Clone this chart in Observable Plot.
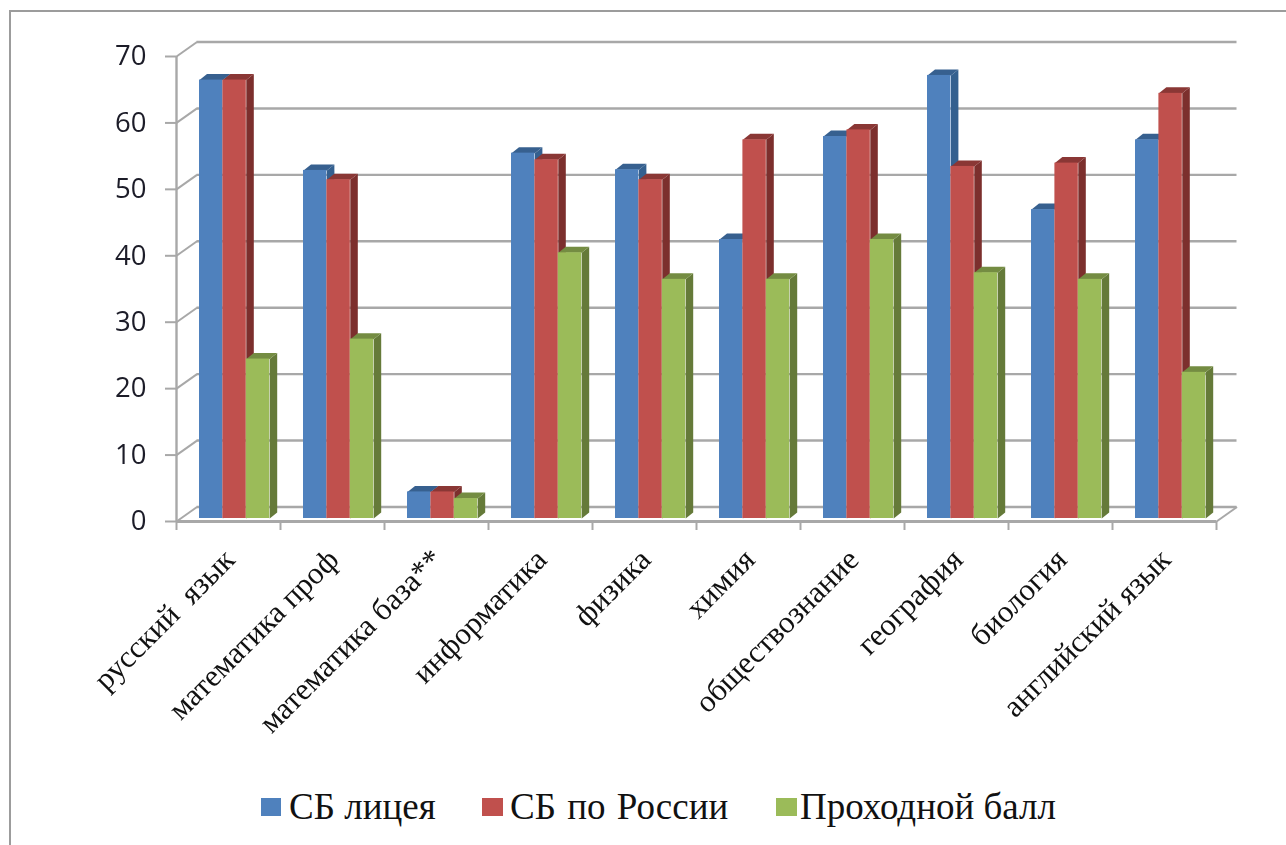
<!DOCTYPE html>
<html><head><meta charset="utf-8">
<script src="https://cdn.jsdelivr.net/npm/d3@7"></script>
<script src="https://cdn.jsdelivr.net/npm/@observablehq/plot@0.6"></script>
<style>
html,body{margin:0;padding:0;background:#fff;overflow:hidden;width:1286px;height:845px}
#frame{position:absolute;left:9px;top:10px;width:1320px;height:880px;border:2px solid #9c9c9c;box-sizing:border-box}
#chart{position:absolute;left:0;top:0}
#legend{position:absolute;left:0;top:785px;width:1286px;height:50px;font-family:"Liberation Serif",serif;font-size:37px;color:#111}
#legend span{position:absolute;white-space:nowrap;top:0}
#legend i{position:absolute;top:13px;width:20.5px;height:18px;display:block}
svg{filter:blur(.45px)}
</style></head><body>
<div id="frame"></div><div id="chart"></div><div id="legend"></div>
<script>
const categories=["русский  язык","математика проф","математика база**","информатика","физика","химия","обществознание","география","биология","английский язык"];
const seriesNames=["СБ лицея","СБ по России","Проходной балл"];
const lyceum=[66,52.4,4,55,52.5,42,57.5,66.7,46.5,57];
const russia=[66,51,4,54,51,57,58.5,53,53.5,64];
const passing=[24,27,3,40,36,36,42,37,36,22];
const yTicks=[0,10,20,30,40,50,60,70];
const colors=["#4f81bd","#c0504d","#9bbb59"];
const sideColors=["#34608f","#7c2f2d","#657a39"];
const topColors=["#37608f","#8a3735","#748c42"];
const values=[lyceum,russia,passing];
const legendWordSpacing=["0px","2px","0px"];

// units: one category = 1 on x; depth of the 3D bars and walls in data units
const U=104, V=6.643;
const barW=23.4/U, barLeft=23/U, dX=7.5/U, dY=6/V, baseY=3/V;
const wallX=20.5/U, wallY=14.5/V;
const grid="#a8a8a8";
const marks=[];

// back wall gridlines + left wall diagonals + floor
marks.push(Plot.ruleY(yTicks,{y:d=>d,x1:wallX,x2:10+wallX,dy:-wallY*V,stroke:grid,strokeWidth:2.4}));
marks.push(Plot.link(yTicks,{x1:0,y1:d=>d,x2:wallX,y2:d=>d+wallY,stroke:grid,strokeWidth:2}));
marks.push(Plot.link([0],{x1:10,y1:0,x2:10+wallX,y2:wallY,stroke:grid,strokeWidth:2}));
marks.push(Plot.ruleX([0],{y1:0,y2:70,stroke:grid,strokeWidth:2.4}));
marks.push(Plot.ruleY([0],{x1:0,x2:10,stroke:grid,strokeWidth:3}));

// bars, painted series by series
values.forEach((vals,s)=>{
  const rows=vals.map((v,i)=>({i,v,l:i+barLeft+s*barW,r:i+barLeft+(s+1)*barW}));
  const side=rows.flatMap(b=>[[b.r,baseY],[b.r,b.v+baseY],[b.r+dX,b.v+baseY+dY],[b.r+dX,baseY+dY]].map(p=>({x:p[0],y:p[1],z:b.i})));
  const top=rows.flatMap(b=>[[b.l,b.v+baseY],[b.r,b.v+baseY],[b.r+dX,b.v+baseY+dY],[b.l+dX,b.v+baseY+dY]].map(p=>({x:p[0],y:p[1],z:b.i})));
  marks.push(Plot.line(side,{x:"x",y:"y",z:"z",fill:sideColors[s],stroke:null,curve:"linear"}));
  marks.push(Plot.line(top,{x:"x",y:"y",z:"z",fill:topColors[s],stroke:null,curve:"linear"}));
  marks.push(Plot.rect(rows,{x1:"l",x2:"r",y1:baseY,y2:d=>d.v+baseY,fill:colors[s]}));
});

// axes
marks.push(Plot.axisY(yTicks,{anchor:"left",tickSize:11,tickPadding:19,stroke:grid,strokeWidth:2,fill:"#1c1c28",fontSize:27.5,fontWeight:500,fontFamily:"'Open Sans',sans-serif",label:null}));
marks.push(Plot.axisX(d3.range(0,11),{anchor:"bottom",tickSize:9,stroke:grid,strokeWidth:2,tickFormat:()=>"",label:null}));
marks.push(Plot.axisX(categories.map((c,i)=>i+.5),{anchor:"bottom",tickSize:0,tickPadding:33,dx:1,tickRotate:-45,tickFormat:d=>categories[Math.floor(d)],fill:"#111",fontSize:31,fontFamily:"'Liberation Serif',serif",label:null}));

const plot=Plot.plot({width:1286,height:785,marginLeft:176,marginRight:70,marginTop:56,marginBottom:264,
  style:{background:"transparent",overflow:"visible"},
  x:{domain:[0,10],range:[176,1216]},
  y:{domain:[0,70],range:[521,56]},
  marks});
document.getElementById("chart").appendChild(plot);

// legend
const legend=document.getElementById("legend");
const pos=[[260.5,289],[482,510],[776,800]];
seriesNames.forEach((n,s)=>{
  const sw=document.createElement("i");sw.style.left=pos[s][0]+"px";sw.style.background=colors[s];legend.appendChild(sw);
  const t=document.createElement("span");t.style.left=pos[s][1]+"px";t.style.wordSpacing=legendWordSpacing[s];t.textContent=n;legend.appendChild(t);
});
</script></body></html>
